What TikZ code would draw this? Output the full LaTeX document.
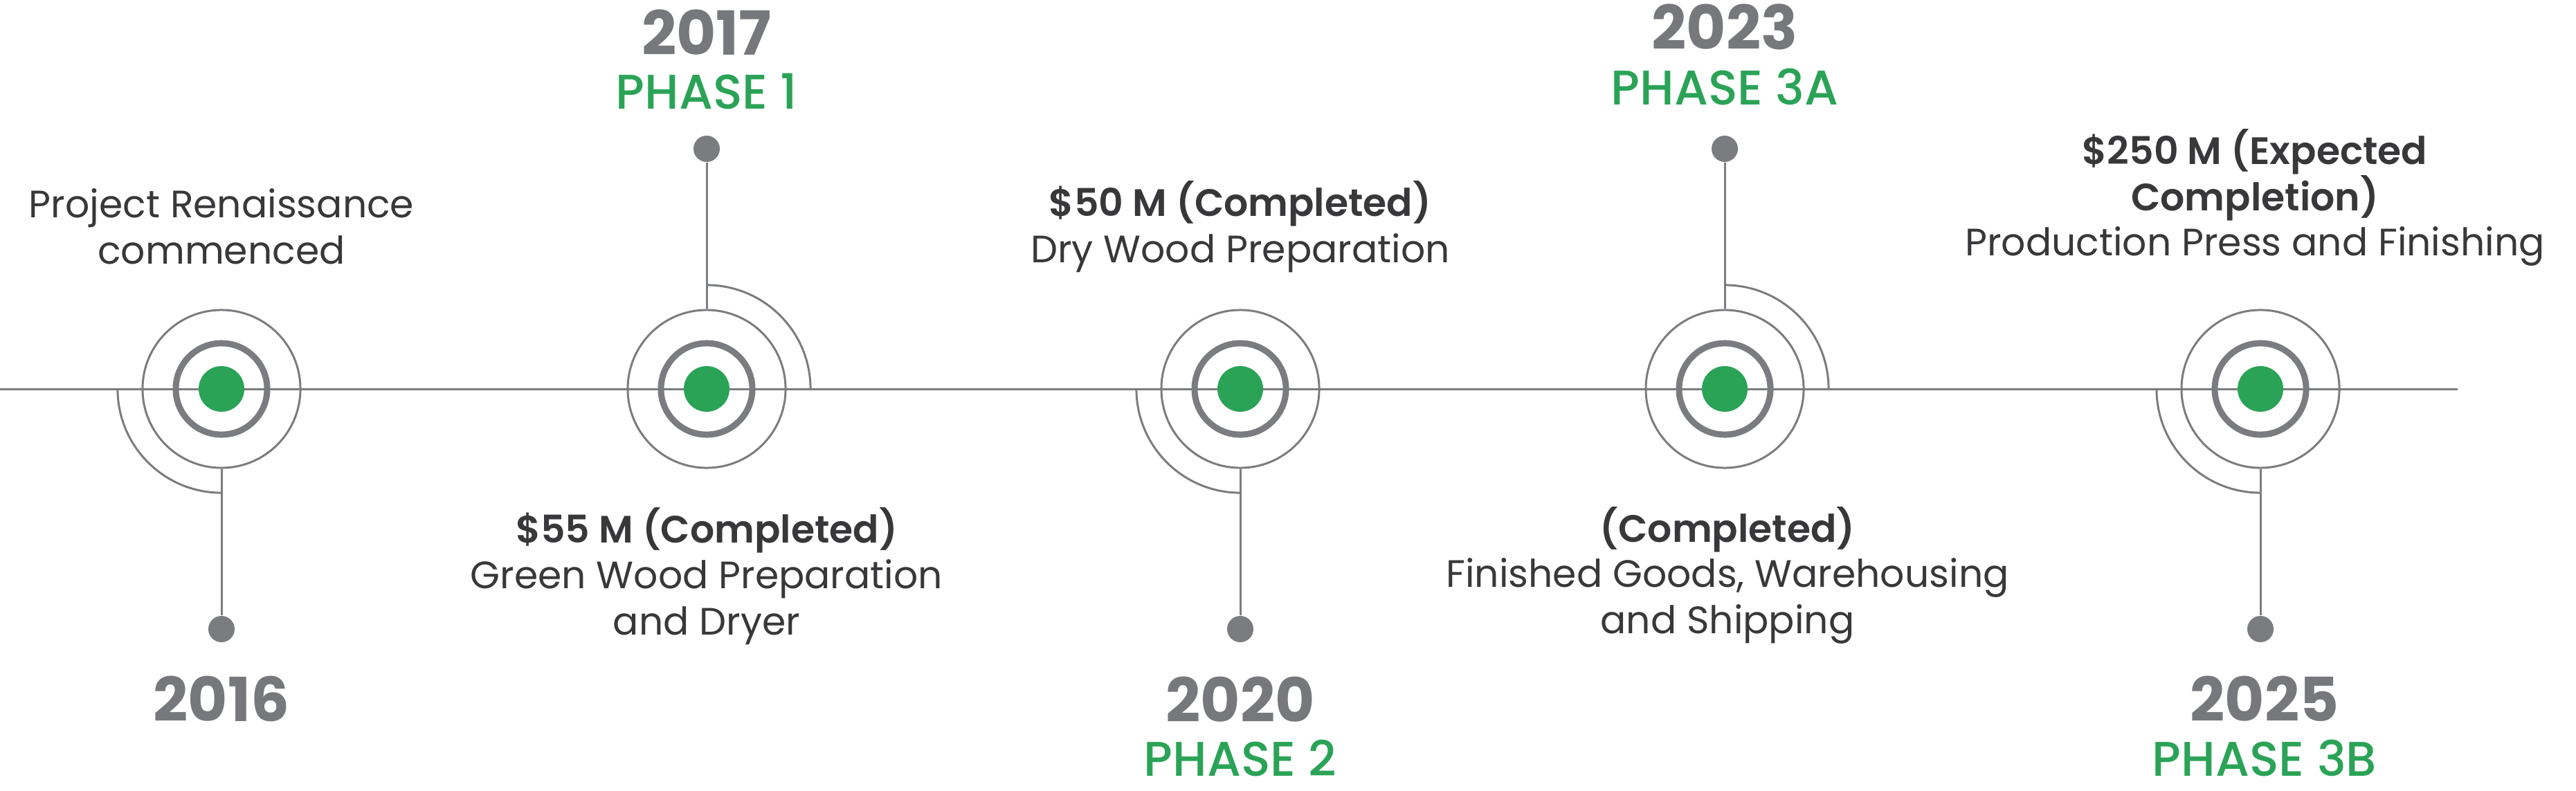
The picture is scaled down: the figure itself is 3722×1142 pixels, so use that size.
\documentclass[tikz,border=0pt]{standalone}
\usepackage{fontspec}
\setmainfont{Poppins}
\newfontfamily\semifont{Poppins SemiBold}
\newfontfamily\medfont{Poppins Medium}
\usetikzlibrary{positioning}
\definecolor{LeafGreen}{HTML}{2BA357}
\definecolor{YearGray}{HTML}{77787B}
\definecolor{LineGray}{HTML}{7B7C7F}
\definecolor{InkGray}{HTML}{38383A}

\tikzset{
  hub/.style={circle, fill=LeafGreen, minimum size=0.66cm, inner sep=0pt},
  ring/.style={circle, draw=LineGray, line width=0.09cm, minimum size=1.32cm, inner sep=0pt},
  halo/.style={circle, draw=LineGray, line width=0.03cm, minimum size=2.28cm, inner sep=0pt},
  pin/.style={circle, fill=LineGray, minimum size=0.38cm, inner sep=0pt},
  stem/.style={draw=LineGray, line width=0.03cm},
  yr/.style={anchor=base, text=YearGray, font=\fontsize{25}{29}\selectfont\bfseries},
  ph/.style={anchor=base, text=LeafGreen, font=\fontsize{20}{24}\selectfont\medfont},
  desc/.style={anchor=base, text=InkGray, align=center, font=\fontsize{15.7}{18.8}\selectfont},
  head/.style={desc, font=\fontsize{15.7}{18.8}\selectfont\semifont}
}

\begin{document}
\begin{tikzpicture}[x=0.01cm, y=0.01cm]
        \useasboundingbox (0,-580) rectangle (3722,562);
        % Timeline axis
        \coordinate (start) at (0,0);
        \coordinate (end) at (3551,0);
        \draw[stem] (start) -- (end);
        % Milestones
        \foreach \n/\x/\s/\a in {1/320/-1/180, 2/1021/1/0, 3/1792/-1/180, 4/2492/1/0, 5/3266/-1/180} {
            \node[halo] (h\n) at (\x,0) {};
            \node[ring] (r\n) at (\x,0) {};
            \node[hub] (c\n) at (\x,0) {};
            \node[pin] (p\n) at (\x,\s*347) {};
            \draw[stem] (h\n) -- (p\n);
            \draw[stem] (c\n.center) ++(\a:1.5cm) arc[start angle=\a, end angle=\a+90, radius=1.5cm];
        }
        % Years and phases
        \node[yr] (y1) at (320,-480) {2016};
        \node[yr] (y2) at (1021,482) {2017};
        \node[ph] (f2) at (1021,405) {PHASE 1};
        \node[yr] (y3) at (1792,-481) {2020};
        \node[ph] (f3) at (1792,-559) {PHASE 2};
        \node[yr] (y4) at (2492,490) {2023};
        \node[ph] (f4) at (2492,410) {PHASE 3A};
        \node[yr] (y5) at (3272,-480) {2025};
        \node[ph] (f5) at (3272,-559) {PHASE 3B};
        % Descriptions (base = last line)
        \node[desc] (d1) at (320,181) {Project Renaissance\\commenced};
        \node[head] (k2) at (1021,-222) {\$55 M (Completed)};
        \node[desc] (d2) at (1021,-355) {Green Wood Preparation\\and Dryer};
        \node[head] (k3) at (1792,250) {\$50 M (Completed)};
        \node[desc] (d3) at (1792,183) {Dry Wood Preparation};
        \node[head] (k4) at (2496,-221) {(Completed)};
        \node[desc] (d4) at (2496,-353) {Finished Goods, Warehousing\\and Shipping};
        \node[head] (k5) at (3258,258) {\$250 M (Expected\\Completion)};
        \node[desc] (d5) at (3258,193) {Production Press and Finishing};
    \end{tikzpicture}
\end{document}
